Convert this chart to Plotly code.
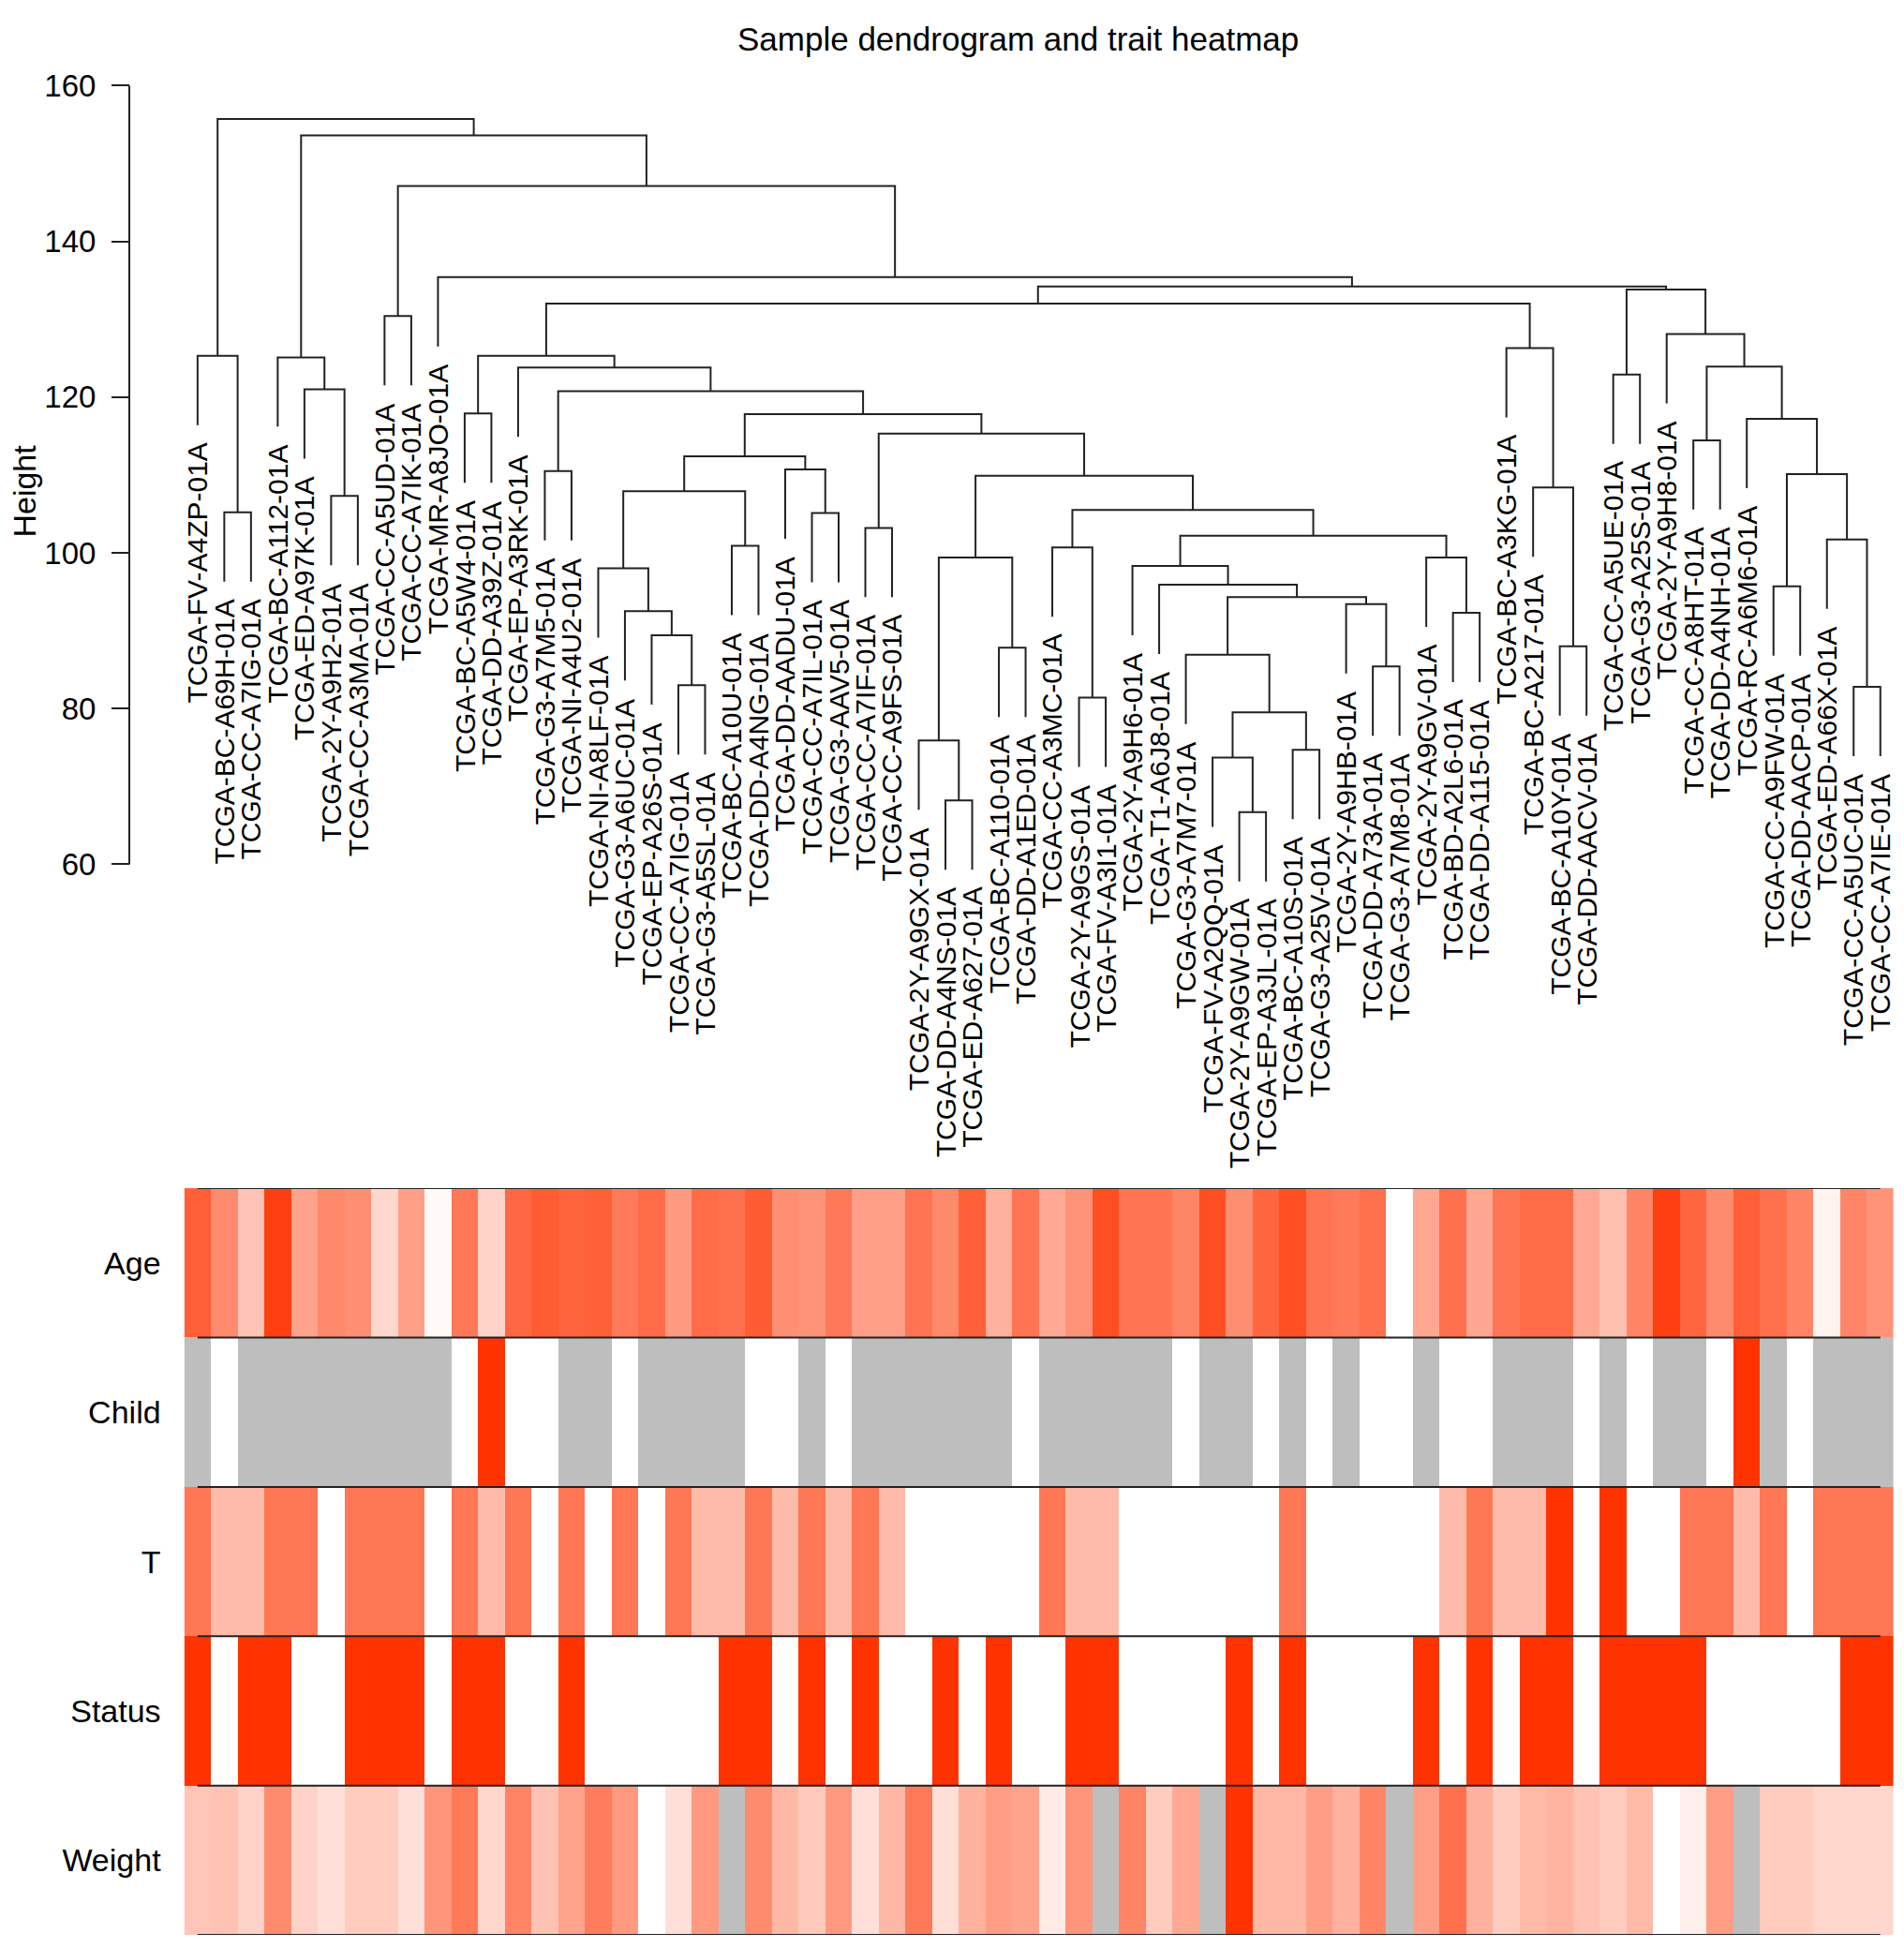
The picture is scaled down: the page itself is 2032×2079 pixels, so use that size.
import plotly.graph_objects as go

# sample order as it appears under the dendrogram
sample_ids = [
    "TCGA-FV-A4ZP-01A", "TCGA-BC-A69H-01A", "TCGA-CC-A7IG-01A", "TCGA-BC-A112-01A",
    "TCGA-ED-A97K-01A", "TCGA-2Y-A9H2-01A", "TCGA-CC-A3MA-01A", "TCGA-CC-A5UD-01A",
    "TCGA-CC-A7IK-01A", "TCGA-MR-A8JO-01A", "TCGA-BC-A5W4-01A", "TCGA-DD-A39Z-01A",
    "TCGA-EP-A3RK-01A", "TCGA-G3-A7M5-01A", "TCGA-NI-A4U2-01A", "TCGA-NI-A8LF-01A",
    "TCGA-G3-A6UC-01A", "TCGA-EP-A26S-01A", "TCGA-CC-A7IG-01A", "TCGA-G3-A5SL-01A",
    "TCGA-BC-A10U-01A", "TCGA-DD-A4NG-01A", "TCGA-DD-AADU-01A", "TCGA-CC-A7IL-01A",
    "TCGA-G3-AAV5-01A", "TCGA-CC-A7IF-01A", "TCGA-CC-A9FS-01A", "TCGA-2Y-A9GX-01A",
    "TCGA-DD-A4NS-01A", "TCGA-ED-A627-01A", "TCGA-BC-A110-01A", "TCGA-DD-A1ED-01A",
    "TCGA-CC-A3MC-01A", "TCGA-2Y-A9GS-01A", "TCGA-FV-A3I1-01A", "TCGA-2Y-A9H6-01A",
    "TCGA-T1-A6J8-01A", "TCGA-G3-A7M7-01A", "TCGA-FV-A2QQ-01A", "TCGA-2Y-A9GW-01A",
    "TCGA-EP-A3JL-01A", "TCGA-BC-A10S-01A", "TCGA-G3-A25V-01A", "TCGA-2Y-A9HB-01A",
    "TCGA-DD-A73A-01A", "TCGA-G3-A7M8-01A", "TCGA-2Y-A9GV-01A", "TCGA-BD-A2L6-01A",
    "TCGA-DD-A115-01A", "TCGA-BC-A3KG-01A", "TCGA-BC-A217-01A", "TCGA-BC-A10Y-01A",
    "TCGA-DD-AACV-01A", "TCGA-CC-A5UE-01A", "TCGA-G3-A25S-01A", "TCGA-2Y-A9H8-01A",
    "TCGA-CC-A8HT-01A", "TCGA-DD-A4NH-01A", "TCGA-RC-A6M6-01A", "TCGA-CC-A9FW-01A",
    "TCGA-DD-AACP-01A", "TCGA-ED-A66X-01A", "TCGA-CC-A5UC-01A", "TCGA-CC-A7IE-01A",
]

# hclust-style merges: negative = leaf number, positive = earlier merge row
merge_pairs = [
    (-2, -3), (-1, 1), (-6, -7), (-5, 3), (-4, 4), (-8, -9), (-11, -12), (-14, -15),
    (-19, -20), (-18, 9), (-17, 10), (-16, 11), (-21, -22), (12, 13), (-24, -25), (-23, 15),
    (14, 16), (-26, -27), (-29, -30), (-28, 19), (-31, -32), (20, 21), (-34, -35), (-33, 23),
    (-40, -41), (-39, 25), (-42, -43), (26, 27), (-38, 28), (-45, -46), (-44, 30), (29, 31),
    (-37, 32), (-36, 33), (-48, -49), (-47, 35), (34, 36), (24, 37), (22, 38), (18, 39),
    (17, 40), (8, 41), (-13, 42), (7, 43), (-52, -53), (-51, 45), (-50, 46), (44, 47),
    (-54, -55), (-57, -58), (-60, -61), (-63, -64), (-62, 52), (51, 53), (-59, 54), (50, 55),
    (-56, 56), (49, 57), (48, 58), (-10, 59), (6, 60), (5, 61), (2, 62),
]
merge_heights = [
    105.2, 125.3, 107.3, 121.0, 125.1, 130.4, 117.9, 110.5,
    83.0, 89.4, 92.5, 98.0, 100.9, 107.9, 105.1, 110.7,
    112.4, 103.2, 68.2, 75.9, 87.8, 99.4, 81.4, 100.7,
    66.7, 73.7, 74.7, 79.5, 86.9, 85.4, 93.4, 94.3,
    95.9, 98.3, 92.3, 99.4, 102.2, 105.5, 109.9, 115.3,
    117.8, 120.75, 123.8, 125.3, 88.0, 108.4, 126.3, 132.0,
    122.9, 114.45, 95.7, 82.8, 101.7, 110.1, 117.2, 123.9,
    128.1, 133.8, 134.2, 135.4, 147.1, 153.6, 155.7,
]

height_ticks = [60, 80, 100, 120, 140, 160]

trait_names = ["Age", "Child", "T", "Status", "Weight"]
age = [0.79, 0.57, 0.29, 0.94, 0.45, 0.58, 0.55, 0.20, 0.47, 0.03, 0.66, 0.22, 0.74, 0.80, 0.76, 0.78,
       0.65, 0.72, 0.50, 0.72, 0.70, 0.80, 0.55, 0.53, 0.66, 0.47, 0.47, 0.68, 0.58, 0.78, 0.38, 0.68,
       0.42, 0.53, 0.87, 0.68, 0.68, 0.60, 0.87, 0.56, 0.75, 0.86, 0.68, 0.65, 0.70, 0.00, 0.43, 0.70,
       0.43, 0.67, 0.72, 0.72, 0.42, 0.31, 0.60, 0.94, 0.75, 0.57, 0.79, 0.70, 0.60, 0.06, 0.60, 0.53]
child = [None, 0, None, None, None, None, None, None, None, None, 0, 1, 0, 0, None, None,
         0, None, None, None, None, 0, 0, None, 0, None, None, None, None, None, None, 0,
         None, None, None, None, None, 0, None, None, 0, None, 0, None, 0, 0, None, 0,
         0, None, None, None, 0, None, 0, None, None, 0, 1, None, 0, None, None, None]
t_stage = [3, 2, 2, 3, 3, 1, 3, 3, 3, 1, 3, 2, 3, 1, 3, 1,
           3, 1, 3, 2, 2, 3, 2, 3, 2, 3, 2, 1, 1, 1, 1, 1,
           3, 2, 2, 1, 1, 1, 1, 1, 1, 3, 1, 1, 1, 1, 1, 2,
           3, 2, 2, 4, 1, 4, 1, 1, 3, 3, 2, 3, 1, 3, 3, 3]
status = [1, 0, 1, 1, 0, 0, 1, 1, 1, 0, 1, 1, 0, 0, 1, 0,
          0, 0, 0, 0, 1, 1, 0, 1, 0, 1, 0, 0, 1, 0, 1, 0,
          0, 1, 1, 0, 0, 0, 0, 1, 0, 1, 0, 0, 0, 0, 1, 0,
          1, 0, 1, 1, 0, 1, 1, 1, 1, 0, 0, 0, 0, 0, 1, 1]
weight = [0.28, 0.30, 0.22, 0.57, 0.22, 0.15, 0.25, 0.25, 0.15, 0.52, 0.65, 0.20, 0.60, 0.30, 0.45, 0.64,
          0.50, 0.00, 0.15, 0.50, None, 0.57, 0.35, 0.26, 0.50, 0.15, 0.35, 0.65, 0.16, 0.38, 0.48, 0.45,
          0.10, 0.52, None, 0.60, 0.25, 0.42, None, 1.00, 0.35, 0.35, 0.48, 0.38, 0.60, None, 0.47, 0.70,
          0.38, 0.25, 0.34, 0.37, 0.30, 0.25, 0.34, 0.00, 0.08, 0.48, None, 0.25, 0.25, 0.20, 0.20, 0.20]

FONT = "Liberation Sans"
LINE = "#222222"
W, H = 2032, 2079

# --- dendrogram geometry from merges ---
n = len(sample_ids)
leaf_x = list(range(1, n + 1))
hang = 0.1 * (max(merge_heights) - min(merge_heights))
node_x = []
leaf_bottom = [None] * n
seg_x, seg_y = [], []
for (a, b), h in zip(merge_pairs, merge_heights):
    pts = []
    for c in (a, b):
        if c < 0:
            xc = leaf_x[-c - 1]
            yb = h - hang
            leaf_bottom[-c - 1] = yb
        else:
            xc = node_x[c - 1]
            yb = merge_heights[c - 1]
        pts.append((xc, yb))
    seg_x += [pts[0][0], pts[0][0], pts[1][0], pts[1][0], None]
    seg_y += [pts[0][1], h, h, pts[1][1], None]
    node_x.append((pts[0][0] + pts[1][0]) / 2)

fig = go.Figure()
fig.add_trace(go.Scatter(x=seg_x, y=seg_y, mode="lines", line=dict(color=LINE, width=2),
                         hoverinfo="skip", showlegend=False, xaxis="x", yaxis="y"))

# --- trait heatmap ---
t_scaled = [(v - 1) / 3 for v in t_stage]
rows = [age, child, t_scaled, status, weight]
na_mask = [[1 if v is None else None for v in r] for r in rows]
row_idx = list(range(len(trait_names)))

fig.add_trace(go.Heatmap(x=leaf_x, y=row_idx, z=na_mask, colorscale=[[0, "#BEBEBE"], [1, "#BEBEBE"]],
                         showscale=False, hoverinfo="skip", xaxis="x2", yaxis="y2"))
fig.add_trace(go.Heatmap(x=leaf_x, y=row_idx, z=rows, zmin=0, zmax=1,
                         colorscale=[[0, "#FFFFFF"], [1, "#FF3300"]],
                         showscale=False, hoverinfo="skip", xaxis="x2", yaxis="y2"))

sep_x, sep_y = [], []
for k in range(len(trait_names) + 1):
    sep_x += [leaf_x[0], leaf_x[-1], None]
    sep_y += [k - 0.5, k - 0.5, None]
fig.add_trace(go.Scatter(x=sep_x, y=sep_y, mode="lines", line=dict(color=LINE, width=2),
                         cliponaxis=False, hoverinfo="skip", showlegend=False,
                         xaxis="x2", yaxis="y2"))

# leaf labels hanging under each leaf
annotations = []
for xi, yb, lab in zip(leaf_x, leaf_bottom, sample_ids):
    annotations.append(dict(x=xi, y=yb, xref="x", yref="y", text=lab, showarrow=False,
                            textangle=-90, xanchor="center", yanchor="top", yshift=-17,
                            font=dict(family=FONT, size=30, color="black")))

annotations.append(dict(x=1086 / W, y=1 - 24 / H, xref="paper", yref="paper",
                        text="Sample dendrogram and trait heatmap", showarrow=False,
                        xanchor="center", yanchor="middle",
                        font=dict(family=FONT, size=35, color="black")))
annotations.append(dict(x=26 / W, y=1 - 511 / H, xref="paper", yref="paper", text="Height",
                        showarrow=False, textangle=-90, xanchor="center", yanchor="middle",
                        font=dict(family=FONT, size=34, color="black")))

x_dom = [196.6 / W, 2021 / W]
y_top, y_bot, px_per_unit = 74, 1240, 8.383
axis_pos = 138 / W

fig.update_layout(
    width=W, height=H,
    margin=dict(l=0, r=0, t=0, b=0),
    paper_bgcolor="white", plot_bgcolor="white",
    font=dict(family=FONT, color="black"),
    xaxis=dict(domain=x_dom, range=[0.5, n + 0.5], visible=False, anchor="y"),
    yaxis=dict(domain=[1 - y_bot / H, 1 - y_top / H],
               range=[160 - (y_bot - y_top) / px_per_unit, 160],
               tickvals=height_ticks, ticks="outside", ticklen=19, tickwidth=2, tickcolor=LINE,
               ticklabelstandoff=10,
               tickfont=dict(size=33, family=FONT, color="black"),
               showgrid=False, zeroline=False, showline=False,
               anchor="free", position=axis_pos),
    xaxis2=dict(domain=x_dom, range=[0.5, n + 0.5], visible=False, anchor="y2"),
    yaxis2=dict(domain=[1 - 2065 / H, 1 - 1261 / H], range=[len(trait_names) - 0.5, -0.5],
                tickvals=row_idx, ticktext=trait_names, ticks="", ticklabelstandoff=24,
                tickfont=dict(size=34, family=FONT, color="black"),
                showgrid=False, zeroline=False, showline=False, anchor="x2"),
    shapes=[dict(type="line", xref="paper", yref="y", x0=axis_pos, x1=axis_pos,
                 y0=min(height_ticks), y1=max(height_ticks), line=dict(color=LINE, width=2))],
    annotations=annotations,
)

# pin the plot to the page corner so no body margin or whitespace line shifts it
pin_js = (
    "document.body.style.margin='0';"
    "var gd=document.getElementById('{plot_id}');"
    "gd.style.position='absolute';gd.style.left='0px';gd.style.top='0px';"
)
fig.write_html("out.html", config={"displayModeBar": False}, post_script=pin_js)
